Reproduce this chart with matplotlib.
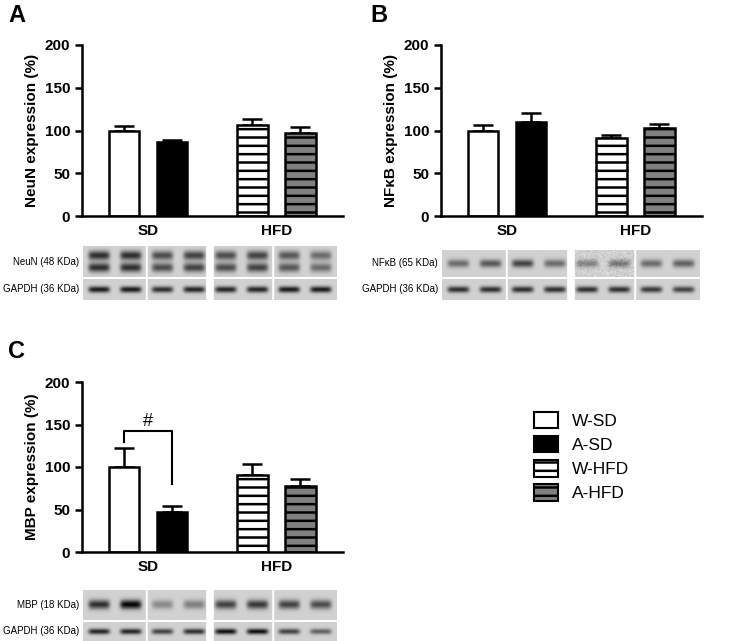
import numpy as np
import matplotlib.pyplot as plt
from matplotlib.patches import Patch

plt.rcParams['font.family'] = ['Liberation Sans', 'DejaVu Sans']
plt.rcParams['hatch.linewidth'] = 1.8

# ── Data ─────────────────────────────────────────────────────────────────────
groups = ['W-SD', 'A-SD', 'W-HFD', 'A-HFD']
neun = [100, 87, 106, 97]
neun_err = [5, 2, 7, 7]
nfkb = [100, 110, 91, 103]
nfkb_err = [6, 11, 4, 5]
mbp = [100, 47, 91, 78]
mbp_err = [22, 7, 13, 8]

# band intensities per lane (8 lanes), decorative blots
neun_bands = [0.8, 0.8, 0.65, 0.7, 0.65, 0.7, 0.6, 0.5]
nfkb_bands = [0.5, 0.6, 0.7, 0.5, 0.4, 0.45, 0.5, 0.55]
mbp_bands = [0.8, 1.0, 0.35, 0.4, 0.7, 0.75, 0.7, 0.65]
gapdh_a = [0.9, 0.9, 0.8, 0.85, 0.85, 0.85, 0.9, 0.9]
gapdh_b = [0.8, 0.8, 0.8, 0.8, 0.8, 0.8, 0.75, 0.7]
gapdh_c = [0.85, 0.85, 0.7, 0.8, 0.95, 0.95, 0.7, 0.55]

xpos = [0, 1, 2.67, 3.67]
faces = ['white', 'black', 'white', '#808080']
hatches = [None, None, '--', '--']

W, H = 729, 641
fig = plt.figure(figsize=(W / 100, H / 100), dpi=100)


def fax(x0, y0, x1, y1):
    return fig.add_axes([x0 / W, 1 - y1 / H, (x1 - x0) / W, (y1 - y0) / H])


def bar_panel(ax, vals, errs, ylabel):
    for x, v, e, fc, h in zip(xpos, vals, errs, faces, hatches):
        ax.bar(x, v, width=0.64, color=fc, edgecolor='black', linewidth=1.8,
               hatch=h, zorder=2)
        ax.errorbar(x, v, yerr=[[0], [e]], color='black', capsize=7,
                    capthick=1.8, elinewidth=1.8, zorder=1)
    ax.set_xlim(-0.875, 4.56)
    ax.set_ylim(0, 200)
    ax.set_yticks([0, 50, 100, 150, 200])
    ax.set_xticks([0.5, 3.17])
    ax.set_xticklabels(['SD', 'HFD'])
    for lab in ax.get_xticklabels() + ax.get_yticklabels():
        lab.set_fontweight('bold')
        lab.set_fontsize(11)
    ax.tick_params(width=1.8, length=5)
    ax.tick_params(axis='x', length=0, pad=6)
    for s in ['top', 'right']:
        ax.spines[s].set_visible(False)
    for s in ['left', 'bottom']:
        ax.spines[s].set_linewidth(1.8)
    ax.set_ylabel(ylabel, fontsize=11, fontweight='bold')
    ax.set_facecolor('none')


def blot(x0, y0, x1, y1, bands, label, double=False, noisy=False):
    ax = fax(x0, y0, x1, y1)
    n = 8
    w, h = 400, 40
    xs = np.linspace(0, n, w)
    ys = np.linspace(0, 1, h)[:, None]
    img = np.full((h, w), 0.82)
    for i, b in enumerate(bands):
        lane = np.exp(-((xs - (i + 0.5)) / 0.34) ** 6)
        centers = [0.3, 0.7] if double else [0.5]
        for c in centers:
            img -= b * 0.8 * lane[None, :] * np.exp(-((ys - c) / 0.15) ** 2)
    if noisy:
        rng = np.random.default_rng(1)
        img[:, w // 2:w * 3 // 4] += rng.normal(0, 0.06, (h, w // 4))
    # white separators between images
    for sep in [2, 4, 6]:
        gap = 0.12 if sep == 4 else 0.03
        img[:, (xs > sep - gap) & (xs < sep + gap)] = 1.0
    ax.imshow(np.clip(img, 0, 1), cmap='gray', vmin=0, vmax=1, aspect='auto',
              interpolation='bilinear')
    ax.axis('off')
    fig.text((x0 - 4) / W, 1 - (y0 + y1) / 2 / H, label, ha='right',
             va='center', fontsize=7)


# Panel A
axA = fax(82, 45, 343, 216)
bar_panel(axA, neun, neun_err, 'NeuN expression (%)')
blot(83, 246, 337, 277, neun_bands, 'NeuN (48 KDa)', double=True)
blot(83, 279, 337, 300, gapdh_a, 'GAPDH (36 KDa)')

# Panel B
axB = fax(441, 45, 702, 216)
bar_panel(axB, nfkb, nfkb_err, 'NFκB expression (%)')
blot(442, 250, 700, 277, nfkb_bands, 'NFκB (65 KDa)', noisy=True)
blot(442, 279, 700, 300, gapdh_b, 'GAPDH (36 KDa)')

# Panel C
axC = fax(82, 382, 343, 552)
bar_panel(axC, mbp, mbp_err, 'MBP expression (%)')
blot(83, 590, 337, 620, mbp_bands, 'MBP (18 KDa)')
blot(83, 622, 337, 641, gapdh_c, 'GAPDH (36 KDa)')
axC.plot([xpos[0], xpos[0], xpos[1], xpos[1]], [130, 142, 142, 80],
         color='black', lw=1.5)
axC.text((xpos[0] + xpos[1]) / 2, 144, '#', ha='center', va='bottom',
         fontsize=13)

for lab, x, y in [('A', 8, 16), ('B', 370, 16), ('C', 8, 352)]:
    fig.text(x / W, 1 - y / H, lab, fontsize=17, fontweight='bold',
             va='center')

handles = [Patch(facecolor=fc, edgecolor='black', linewidth=1.5, hatch=h,
                 label=g) for g, fc, h in zip(groups, faces, hatches)]
fig.legend(handles=handles, loc='upper left', bbox_to_anchor=(518 / W, 1 - 396 / H),
           frameon=False, fontsize=12.5, handlelength=1.4, handleheight=1.1,
           labelspacing=0.4)

fig.savefig('out.png', dpi=100)
